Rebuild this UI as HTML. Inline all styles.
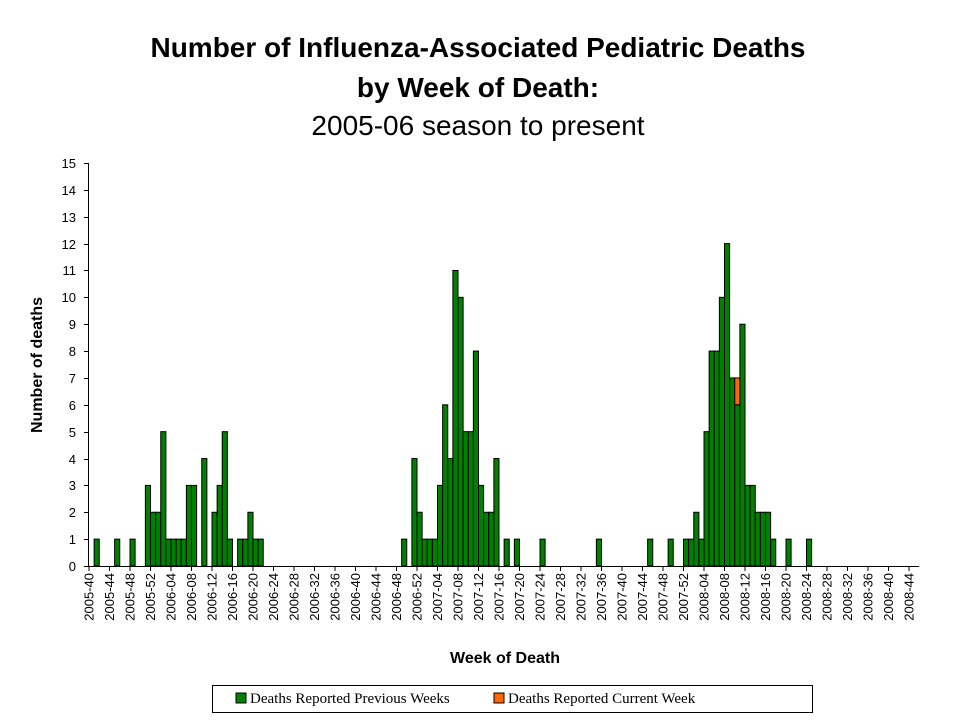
<!DOCTYPE html>
<html><head><meta charset="utf-8"><style>
body{margin:0;background:#fff;width:960px;height:720px;overflow:hidden}
svg{display:block}
</style></head><body>
<svg id="chart" width="960" height="720" xmlns="http://www.w3.org/2000/svg" font-family="Liberation Sans, Arial, sans-serif">
<g text-anchor="middle">
<text x="478" y="57" font-size="28" font-weight="bold">Number of Influenza-Associated Pediatric Deaths</text>
<text x="478" y="97" font-size="28" font-weight="bold">by Week of Death:</text>
<text x="478" y="135" font-size="28">2005-06 season to present</text>
</g>
<text transform="translate(42,365) rotate(-90)" text-anchor="middle" font-size="16" font-weight="bold">Number of deaths</text>
<text x="505" y="663" text-anchor="middle" font-size="16" font-weight="bold">Week of Death</text>
<g id="bars"></g>
<g id="axes"></g>
<g font-family="Liberation Serif, serif" font-size="15">
<rect x="212.5" y="685.5" width="600" height="27" fill="#fff" stroke="#000"/>
<g>
<rect x="236" y="693" width="10" height="10" fill="#008000" stroke="#000"/>
<text x="250" y="703">Deaths Reported Previous Weeks</text></g>
<g>
<rect x="494" y="693" width="10" height="10" fill="#ff6600" stroke="#000"/>
<text x="508" y="703">Deaths Reported Current Week</text></g>
</g>
</svg>
<script>
// week index 0 = 2005-40; [index, value]
const prevWeeks = [[1,1],[5,1],[8,1],[11,3],[12,2],[13,2],[14,5],[15,1],[16,1],[17,1],[18,1],[19,3],[20,3],[22,4],[24,2],[25,3],[26,5],[27,1],[29,1],[30,1],[31,2],[32,1],[33,1],
[61,1],[63,4],[64,2],[65,1],[66,1],[67,1],[68,3],[69,6],[70,4],[71,11],[72,10],[73,5],[74,5],[75,8],[76,3],[77,2],[78,2],[79,4],[81,1],[83,1],[88,1],
[99,1],[109,1],[113,1],[116,1],[117,1],[118,2],[119,1],[120,5],[121,8],[122,8],[123,10],[124,12],[125,7],[126,6],[127,9],[128,3],[129,3],[130,2],[131,2],[132,2],[133,1],[136,1],[140,1]];
const currWeeks = [[126,1]];
const yTicks = [0,1,2,3,4,5,6,7,8,9,10,11,12,13,14,15];
const nWeeks = 162;
const NS='http://www.w3.org/2000/svg';
const X0=89, BW=5.125, Y0=566, YT=163, YMAX=15;
const xs=i=>X0+i*BW;
const ys=v=>Y0-(Y0-YT)*v/YMAX;
function label(i){let y=2005,w=40+i;if(w>52){y=2006;w-=52;}if(w>52){y=2007;w-=52;}if(w>52){y=2008;w-=52;}return y+'-'+String(w).padStart(2,'0');}
const bars=document.getElementById('bars'),axes=document.getElementById('axes');
function mk(tag,a,p){const e=document.createElementNS(NS,tag);for(const k in a)e.setAttribute(k,a[k]);p.appendChild(e);return e;}
const base={};
prevWeeks.forEach(([i,v])=>{base[i]=v;
const r=mk('rect',{x:xs(i),y:ys(v),width:BW,height:ys(0)-ys(v),fill:'#008000',stroke:'#000','stroke-width':1},bars);

});
currWeeks.forEach(([i,v])=>{const b=base[i]||0;
const r=mk('rect',{x:xs(i),y:ys(b+v),width:BW,height:ys(b)-ys(b+v),fill:'#ff6600',stroke:'#000','stroke-width':1},bars);

});
mk('line',{x1:88.5,y1:YT,x2:88.5,y2:Y0,stroke:'#000'},axes);
mk('line',{x1:88,y1:Y0+0.5,x2:xs(nWeeks),y2:Y0+0.5,stroke:'#000'},axes);
yTicks.forEach(v=>{const y=Math.round(ys(v))+0.5;
mk('line',{x1:84,y1:y,x2:88,y2:y,stroke:'#000'},axes);
const t=mk('text',{x:76,y:y+4.5,'text-anchor':'end','font-size':13},axes);t.textContent=v;

});
for(let i=0;i<=160;i+=4){const x=xs(i);
mk('line',{x1:x,y1:Y0,x2:x,y2:Y0+5,stroke:'#000'},axes);
const t=mk('text',{transform:`translate(${x+4.5},${Y0+7}) rotate(-90)`,'text-anchor':'end','font-size':13},axes);t.textContent=label(i);

}
</script>
</body></html>
